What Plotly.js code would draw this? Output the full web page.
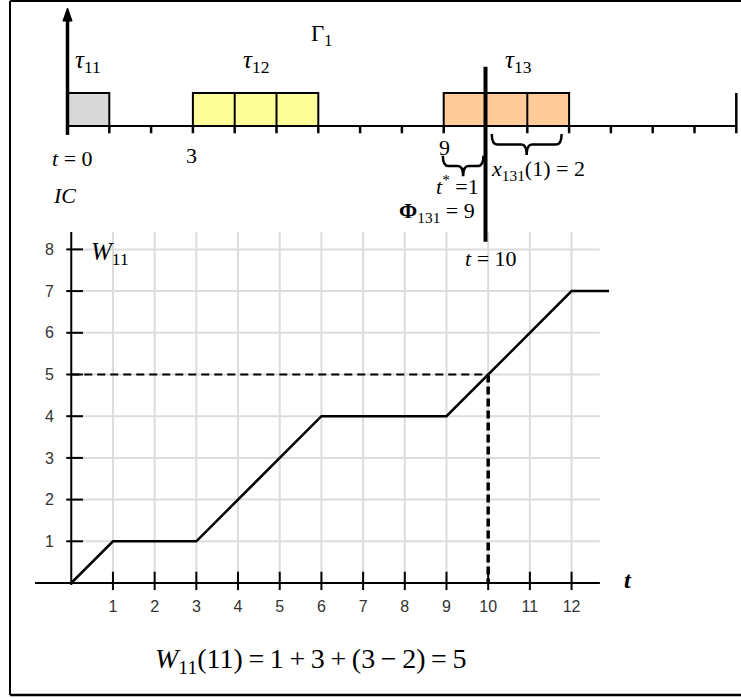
<!DOCTYPE html>
<html>
<head>
<meta charset="utf-8">
<script src="https://cdn.plot.ly/plotly-3.0.1.min.js"></script>
<style>html,body{margin:0;padding:0;background:#fff}</style>
</head>
<body>
<div id="chart" style="width:741px;height:698px"></div>
<script>
// Work intervals on the timeline of resource Γ1
const taskNames = ['τ<sub>11</sub>', 'τ<sub>12</sub>', 'τ<sub>13</sub>'];
const taskStart = [0, 3, 9];
const taskEnd = [1, 6, 12];
const taskFill = ['#d9d9d9', '#ffff99', '#ffcc99'];
const taskLabelT = [0.5, 4.5, 10.8];
const timelineEnd = 16;
const currentTime = 10;

// Accumulated work W11(t)
const curveT = [0, 1, 3, 6, 9, 10, 12, 12.9];
const curveW = [0, 1, 1, 4, 4, 5, 7, 7];
const tickT = [1, 2, 3, 4, 5, 6, 7, 8, 9, 10, 11, 12];
const tickW = [1, 2, 3, 4, 5, 6, 7, 8];
const readT = 10;
const readW = 5;

const SERIF = '"Liberation Serif", "Times New Roman", serif';
const SANS = '"Liberation Sans", Arial, sans-serif';
const BLACK = '#000';
const GRID = '#dcdcdc';

// extents of the lower chart in data units
const gridRight = 12.68;
const gridTop = 8.417;
const axisLeft = -0.87;

const shapes = [];
const line = (x0, y0, x1, y1, w, color, xr, yr, dash, layer) => shapes.push({
  type: 'line', xref: xr, yref: yr, x0, y0, x1, y1, layer: layer || 'above',
  line: {color: color || BLACK, width: w, dash: dash || 'solid'}
});

// ---- lower chart: grid, axes, ticks (kept under the curve) ----
tickT.forEach(t => line(t, 0, t, gridTop, 2, GRID, 'x', 'y', null, 'below'));
tickW.forEach(w => line(0, w, gridRight, w, 2, GRID, 'x', 'y', null, 'below'));
line(axisLeft, 0, gridRight, 0, 2, BLACK, 'x', 'y', null, 'below');
line(0, -0.05, 0, gridTop, 2, BLACK, 'x', 'y', null, 'below');
tickT.forEach(t => line(t, -0.17, t, 0.27, 2, BLACK, 'x', 'y', null, 'below'));
tickW.forEach(w => line(-0.12, w, 0.28, w, 2, BLACK, 'x', 'y', null, 'below'));

// ---- upper timeline ----
const boxH = 1;
const tickDown = -0.22;
taskStart.forEach((s, i) => {
  shapes.push({type: 'rect', xref: 'x2', yref: 'y2', x0: s, x1: taskEnd[i], y0: 0, y1: boxH,
    fillcolor: taskFill[i], line: {color: BLACK, width: 2}, layer: 'below'});
  for (let k = s + 1; k < taskEnd[i]; k++) line(k, 0, k, boxH, 2, BLACK, 'x2', 'y2');
});
line(0, 0, timelineEnd, 0, 2, BLACK, 'x2', 'y2');
for (let k = 1; k < timelineEnd; k++) line(k, tickDown, k, 0, 2.5, BLACK, 'x2', 'y2');
line(timelineEnd, tickDown, timelineEnd, boxH, 2.5, BLACK, 'x2', 'y2');

// vertical arrow at t = 0
const arrowTip = 3.576, arrowBase = 3.18, arrowHalf = 0.11;
line(0, -0.27, 0, arrowBase + 0.05, 3.5, BLACK, 'x2', 'y2');
shapes.push({type: 'path', xref: 'x2', yref: 'y2',
  path: `M ${-arrowHalf} ${arrowBase} L 0 ${arrowTip} L ${arrowHalf} ${arrowBase} Z`,
  fillcolor: BLACK, line: {color: BLACK, width: 1}});

// current moment t = 10
line(currentTime, -3.506, currentTime, 1.797, 4, BLACK, 'x2', 'y2');

// curly braces opening upward
function brace(a, b, yTop, h) {
  const m = (a + b) / 2, yMid = yTop - h * 0.5, yTip = yTop - h, r = 0.13;
  return `M ${a} ${yTop} Q ${a} ${yMid} ${a + r} ${yMid} L ${m - r} ${yMid} ` +
    `Q ${m} ${yMid} ${m} ${yTip} Q ${m} ${yMid} ${m + r} ${yMid} ` +
    `L ${b - r} ${yMid} Q ${b} ${yMid} ${b} ${yTop}`;
}
shapes.push({type: 'path', xref: 'x2', yref: 'y2', path: brace(8.98, 9.95, -0.9, 0.62),
  line: {color: BLACK, width: 2.5}});
shapes.push({type: 'path', xref: 'x2', yref: 'y2', path: brace(10.15, 11.82, -0.24, 0.64),
  line: {color: BLACK, width: 2.5}});

// frame
line(10 / 741, 0.0043, 10 / 741, 0.9986, 2, BLACK, 'paper', 'paper');
line(10 / 741, 0.9986, 1, 0.9986, 2, BLACK, 'paper', 'paper');
line(10 / 741, 0.0043, 1, 0.0043, 2.5, BLACK, 'paper', 'paper');

const traces = [
  {x: [0, readT], y: [readW, readW], xaxis: 'x', yaxis: 'y', mode: 'lines',
   line: {color: BLACK, width: 2, dash: '8px,5px'}, hoverinfo: 'skip'},
  {x: [readT, readT], y: [readW, 0], xaxis: 'x', yaxis: 'y', mode: 'lines',
   line: {color: BLACK, width: 3.5, dash: '8px,4px'}, hoverinfo: 'skip'},
  {x: curveT, y: curveW, xaxis: 'x', yaxis: 'y', mode: 'lines',
   line: {color: BLACK, width: 2.5}, hoverinfo: 'skip'}
];

const ann = (text, x, y, size, xr, yr, extra) => Object.assign({
  text, x, y, xref: xr, yref: yr, showarrow: false,
  xanchor: 'center', yanchor: 'middle',
  font: {family: SERIF, size, color: BLACK}
}, extra || {});

const annotations = [
  ...taskNames.map((n, i) => ann('<i>' + n.replace('<sub>', '</i><sub>'), taskLabelT[i], 1.95, 25, 'x2', 'y2')),
  ann('Γ<sub>1</sub>', 6.08, 2.76, 23, 'x2', 'y2'),
  ann('<i>t</i> = 0', 0.13, -0.97, 22, 'x2', 'y2'),
  ann('3', 2.97, -0.88, 22, 'x2', 'y2'),
  ann('<i>IC</i>', -0.06, -2.12, 22, 'x2', 'y2'),
  ann('9', 9.03, -0.64, 22, 'x2', 'y2'),
  ann('<i>t</i><sup>*</sup> =1', 9.32, -1.79, 22, 'x2', 'y2'),
  ann('<b>Φ</b><sub>131</sub> = 9', 8.85, -2.6, 22, 'x2', 'y2'),
  ann('<i>x</i><sub>131</sub>(1) = 2', 11.26, -1.33, 22, 'x2', 'y2'),
  ann('<i>t</i> = 10', 10.14, -4.0, 22, 'x2', 'y2'),
  ann('<i>W</i><sub>11</sub>', 0.42, 7.9, 25, 'x', 'y', {xanchor: 'left'}),
  ann('<i><b>t</b></i>', 628 / 741, (698 - 580) / 698, 24, 'paper', 'paper'),
  ann('<i>W</i><sub>11</sub>(11)\u2009=\u20091\u2009+\u20093\u2009+\u2009(3\u2009−\u20092)\u2009=\u20095',
      310 / 741, (698 - 660) / 698, 28, 'paper', 'paper')
];

const layout = {
  width: 741, height: 698,
  margin: {l: 0, r: 0, t: 0, b: 0},
  paper_bgcolor: '#fff', plot_bgcolor: 'rgba(0,0,0,0)',
  showlegend: false,
  xaxis: {domain: [35 / 741, 612 / 741], range: [axisLeft, 12.97], anchor: 'y',
    tickmode: 'array', tickvals: tickT, ticks: '', showgrid: false, zeroline: false,
    showline: false, tickfont: {family: SANS, size: 16, color: '#333'}},
  yaxis: {domain: [0.14756, 0.66762], range: [-0.288, gridTop], anchor: 'free',
    position: 54 / 741, tickmode: 'array', tickvals: tickW, ticks: '', showgrid: false,
    zeroline: false, showline: false, tickfont: {family: SANS, size: 16, color: '#333'}},
  xaxis2: {domain: [0, 1], range: [-1.6148, 16.1124], anchor: 'y2', visible: false},
  yaxis2: {domain: [0, 1], range: [-17.333, 3.818], anchor: 'x2', visible: false},
  shapes, annotations
};

const traceX2 = {x: [0], y: [0], xaxis: 'x2', yaxis: 'y2', mode: 'none', hoverinfo: 'skip'};
Plotly.newPlot('chart', [traceX2, ...traces], layout, {staticPlot: true});
</script>
</body>
</html>
